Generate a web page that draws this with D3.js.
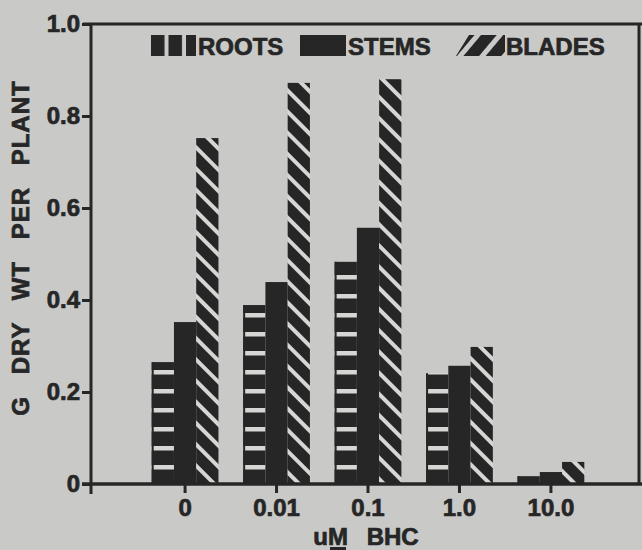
<!DOCTYPE html>
<html>
<head>
    <meta charset="utf-8">
    <script src="https://cdn.jsdelivr.net/npm/d3@7/dist/d3.min.js"></script>
    <title></title>
    <style>
        * {
            margin: 0;
            padding: 0;
        }

        body {
            background-color: #c9c9c7;
        }

        #chart {
            width: 642px;
            height: 550px;
            display: block;
        }

        text {
            font-family: "Liberation Sans", Arial, sans-serif;
            font-weight: bold;
            fill: #262626;
            stroke: #262626;
            stroke-width: 0.7px;
        }
    </style>
</head>
<body>

    <svg id="chart"></svg>
    <script>
        var categories = ["0", "0.01", "0.1", "1.0", "10.0"];
        var seriesNames = ["ROOTS", "STEMS", "BLADES"];
        var roots = [0.265, 0.389, 0.483, 0.241, 0.017];
        var stems = [0.352, 0.439, 0.557, 0.257, 0.026];
        var blades = [0.752, 0.872, 0.880, 0.298, 0.048];
        var yTicks = [0, 0.2, 0.4, 0.6, 0.8, 1.0];
        var yTickLabels = ["0", "0.2", "0.4", "0.6", "0.8", "1.0"];

        var ink = "#262626";
        var paper = "#d6d6d4";
        var margin = { top: 24, right: 3, bottom: 66, left: 91 },
            width = 642 - margin.left - margin.right,
            height = 550 - margin.top - margin.bottom;

        var svg = d3.select("#chart");
        var defs = svg.append("defs");

        // roots: white bands every 19px counted up from the baseline
        var pRoots = defs.append("pattern")
            .attr("id", "rootsFill")
            .attr("patternUnits", "userSpaceOnUse")
            .attr("width", 10).attr("height", 19)
            .attr("y", height);
        pRoots.append("rect").attr("width", 10).attr("height", 19).attr("fill", ink);
        pRoots.append("rect").attr("width", 10).attr("height", 4.5).attr("fill", paper);

        // blades: "\" diagonal white stripes
        var pBlades = defs.append("pattern")
            .attr("id", "bladesFill")
            .attr("patternUnits", "userSpaceOnUse")
            .attr("width", 15).attr("height", 15)
            .attr("patternTransform", "rotate(-45)");
        pBlades.append("rect").attr("width", 15).attr("height", 15).attr("fill", ink);
        pBlades.append("rect").attr("width", 4).attr("height", 15).attr("fill", paper);

        // legend versions
        var pRootsLeg = defs.append("pattern")
            .attr("id", "rootsLeg")
            .attr("patternUnits", "userSpaceOnUse")
            .attr("width", 17.5).attr("height", 30)
            .attr("x", 151);
        pRootsLeg.append("rect").attr("width", 13.5).attr("height", 30).attr("fill", ink);

        var pBladesLeg = defs.append("pattern")
            .attr("id", "bladesLeg")
            .attr("patternUnits", "userSpaceOnUse")
            .attr("width", 17).attr("height", 17)
            .attr("patternTransform", "rotate(40)");
        pBladesLeg.append("rect").attr("width", 12).attr("height", 17).attr("fill", ink);

        var g = svg.append("g")
            .attr("transform", "translate(" + margin.left + "," + margin.top + ")");

        var x = d3.scaleBand()
            .domain(categories)
            .range([36, 518])
            .padding(0.27);

        var xs = d3.scaleBand()
            .domain(seriesNames)
            .range([0, x.bandwidth()]);

        var y = d3.scaleLinear()
            .domain([0, 1])
            .range([height, 0]);

        var series = [
            { name: "ROOTS", values: roots, fill: "url(#rootsFill)" },
            { name: "STEMS", values: stems, fill: ink },
            { name: "BLADES", values: blades, fill: "url(#bladesFill)" }
        ];

        series.forEach(function (s) {
            var rows = categories.map(function (c, i) { return { cat: c, v: s.values[i] }; });
            g.selectAll("rect.b" + s.name)
                .data(rows)
                .enter()
                .append("rect")
                .attr("class", "b" + s.name)
                .attr("x", function (d) { return x(d.cat) + xs(s.name); })
                .attr("y", function (d) { return y(d.v); })
                .attr("width", xs.bandwidth())
                .attr("height", function (d) { return height - y(d.v); })
                .attr("fill", s.fill);
            if (s.name == "ROOTS") {
                // thin solid left edge
                g.selectAll("rect.e" + s.name)
                    .data(rows)
                    .enter()
                    .append("rect")
                    .attr("x", function (d) { return x(d.cat) + xs(s.name); })
                    .attr("y", function (d) { return y(d.v); })
                    .attr("width", 2)
                    .attr("height", function (d) { return height - y(d.v); })
                    .attr("fill", ink);
            }
        });

        // axes
        var yAxis = g.append("g")
            .call(d3.axisLeft(y)
                .tickValues(yTicks)
                .tickFormat(function (d, i) { return yTickLabels[i]; })
                .tickSize(9)
                .tickPadding(2));
        var xAxis = g.append("g")
            .attr("transform", "translate(0," + height + ")")
            .call(d3.axisBottom(x).tickSize(9).tickPadding(6));

        [yAxis, xAxis].forEach(function (a) {
            a.select(".domain").remove();
            a.selectAll("line").attr("stroke", ink).attr("stroke-width", 3);
            a.selectAll("text")
                .style("font-size", "24px")
                .style("font-family", "'Liberation Sans', Arial, sans-serif")
                .style("font-weight", "bold")
                .attr("fill", ink);
        });

        // frame and axis lines
        g.append("line").attr("x1", 0).attr("x2", 0).attr("y1", -1).attr("y2", height + 10)
            .attr("stroke", ink).attr("stroke-width", 3);
        g.append("line").attr("x1", -9).attr("x2", width + 3).attr("y1", height).attr("y2", height)
            .attr("stroke", ink).attr("stroke-width", 3.5);
        g.append("line").attr("x1", -8).attr("x2", width + 3).attr("y1", 0).attr("y2", 0)
            .attr("stroke", ink).attr("stroke-width", 3);
        g.append("line").attr("x1", width).attr("x2", width).attr("y1", 0).attr("y2", height)
            .attr("stroke", ink).attr("stroke-width", 3);

        // legend
        svg.append("rect").attr("x", 151).attr("y", 35).attr("width", 45).attr("height", 21)
            .attr("fill", "url(#rootsLeg)");
        svg.append("rect").attr("x", 300).attr("y", 35).attr("width", 46).attr("height", 21)
            .attr("fill", ink);
        svg.append("path").attr("d", "M469,35 L505,35 L505,56 L456,56 Z")
            .attr("fill", "url(#bladesLeg)");
        var legX = [198, 348, 506];
        seriesNames.forEach(function (n, i) {
            svg.append("text")
                .attr("x", legX[i])
                .attr("y", 55)
                .style("font-size", "24px")
                .text(n);
        });

        // axis titles
        svg.append("text")
            .attr("transform", "translate(29,248) rotate(-90)")
            .attr("text-anchor", "middle")
            .style("font-size", "24px")
            .style("letter-spacing", "1px")
            .style("word-spacing", "14px")
            .text("G DRY WT PER PLANT");

        var xt = svg.append("text")
            .attr("x", 366)
            .attr("y", 545)
            .attr("text-anchor", "middle")
            .style("font-size", "24px")
            .style("word-spacing", "12px")
            .text("uM BHC");
        var m = xt.node().getExtentOfChar(1);
        svg.append("rect")
            .attr("x", m.x + 2)
            .attr("y", 547)
            .attr("width", m.width - 4)
            .attr("height", 4)
            .attr("fill", ink);
    </script>
</body>
</html>
